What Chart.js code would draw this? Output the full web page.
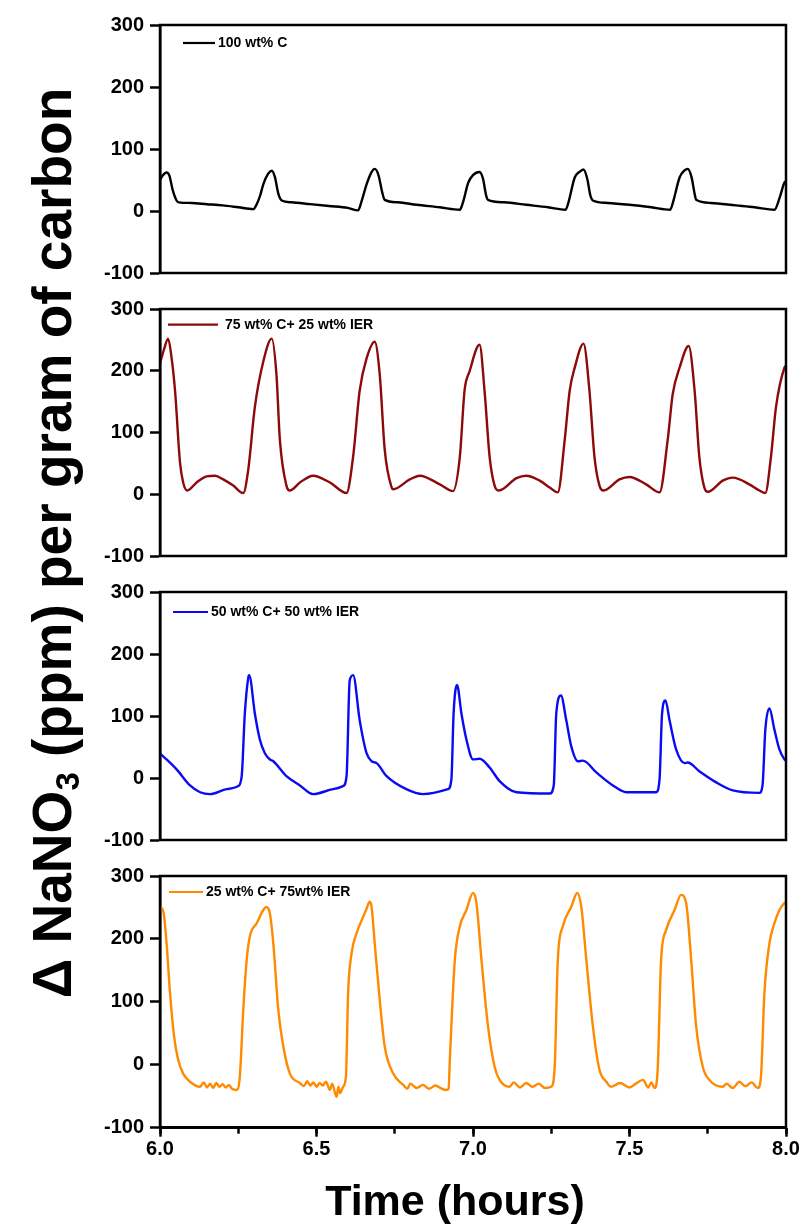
<!DOCTYPE html>
<html>
<head>
<meta charset="utf-8">
<script src="https://cdn.jsdelivr.net/npm/chart.js@4.4.1/dist/chart.umd.min.js"></script>
<style>
  body { margin: 0; background: #fff; width: 805px; height: 1225px; position: relative; overflow: hidden;
         font-family: 'Liberation Sans', Arial, sans-serif; }
  canvas { position: absolute; left: 0; }
  #ytitle { position: absolute; left: -448px; top: 513px; width: 1000px; height: 60px; line-height: 60px;
            font-size: 55px; font-weight: bold; text-align: center; white-space: nowrap;
            transform: rotate(-90deg); transform-origin: 50% 50%; color: #000; }
  #ytitle .sub { font-size: 0.6em; vertical-align: -0.25em; }
  #xtitle { position: absolute; left: 255px; top: 1179px; width: 400px; height: 43px; line-height: 43px;
            font-size: 43px; font-weight: bold; text-align: center; color: #000; }
</style>
</head>
<body>
<canvas id="c1" width="805" height="291" style="top:0px"></canvas>
<canvas id="c2" width="805" height="283" style="top:291px"></canvas>
<canvas id="c3" width="805" height="284" style="top:574px"></canvas>
<canvas id="c4" width="805" height="367" style="top:858px"></canvas>
<div id="ytitle">Δ NaNO<span class="sub">3</span> (ppm) per gram of carbon</div>
<div id="xtitle">Time (hours)</div>
<script>
const FONT = "'Liberation Sans', Arial, sans-serif";

// series names and colours
const seriesNames = ['100 wt% C', '75 wt% C+ 25 wt% IER', '50 wt% C+ 50 wt% IER', '25 wt% C+ 75wt% IER'];
const seriesColors = ['#000000', '#8c0a0a', '#0b0bf2', '#ff8a00'];

// axis ticks
const yTicks = [-100, 0, 100, 200, 300];
const xTicks = [6.0, 6.5, 7.0, 7.5, 8.0];
const xMinorTicks = [6.0, 6.25, 6.5, 6.75, 7.0, 7.25, 7.5, 7.75, 8.0];

// 100 wt% C
const timeC100 = [6.000, 6.008, 6.021, 6.030, 6.040, 6.053, 6.060, 6.100, 6.150, 6.200, 6.250, 6.298, 6.309, 6.320, 6.330, 6.345, 6.357, 6.367, 6.378, 6.389,
  6.420, 6.480, 6.540, 6.600, 6.633, 6.643, 6.660, 6.675, 6.686, 6.698, 6.710, 6.718, 6.760, 6.820, 6.894, 6.958, 6.968, 6.985, 7.000, 7.021,
  7.032, 7.042, 7.048, 7.100, 7.170, 7.240, 7.296, 7.305, 7.325, 7.340, 7.353, 7.365, 7.375, 7.383, 7.430, 7.500, 7.570, 7.630, 7.640, 7.660,
  7.675, 7.686, 7.698, 7.708, 7.713, 7.760, 7.840, 7.900, 7.963, 7.980, 7.995, 8.000];
const valC100 = [50, 57, 62, 57, 35, 17, 14, 13, 11, 9, 6, 3, 11, 25, 43, 60, 65, 55, 28, 17,
  14, 11, 8, 5, 1, 14, 43, 62, 68, 58, 30, 18, 14, 10, 6, 2, 14, 46, 58, 63,
  52, 25, 18, 14, 10, 6, 2, 14, 54, 63, 67, 52, 25, 17, 13, 10, 6, 2, 16, 54,
  65, 68, 55, 28, 18, 13, 9, 6, 2, 22, 46, 48];

// 75 wt% C + 25 wt% IER
const timeC75 = [6.000, 6.013, 6.026, 6.036, 6.048, 6.064, 6.074, 6.087, 6.117, 6.149, 6.176, 6.202, 6.234, 6.266, 6.282, 6.303, 6.330, 6.357, 6.372, 6.383,
  6.404, 6.415, 6.447, 6.489, 6.543, 6.596, 6.617, 6.638, 6.660, 6.686, 6.702, 6.718, 6.740, 6.745, 6.798, 6.830, 6.894, 6.936, 6.958, 6.973,
  6.989, 7.021, 7.037, 7.053, 7.069, 7.083, 7.139, 7.170, 7.213, 7.245, 7.271, 7.293, 7.309, 7.325, 7.353, 7.372, 7.388, 7.404, 7.417, 7.468,
  7.500, 7.553, 7.596, 7.622, 7.638, 7.660, 7.689, 7.708, 7.723, 7.739, 7.750, 7.798, 7.830, 7.883, 7.915, 7.934, 7.952, 7.968, 7.995, 8.000];
const valC75 = [212, 235, 252, 225, 168, 51, 19, 6, 19, 29, 30, 24, 14, 2, 40, 141, 215, 252, 194, 88,
  14, 6, 19, 30, 19, 2, 61, 168, 220, 247, 194, 72, 11, 8, 24, 30, 16, 5, 61, 168,
  199, 242, 167, 61, 14, 6, 26, 30, 22, 11, 3, 88, 168, 205, 244, 168, 61, 14, 6, 24,
  28, 16, 3, 88, 162, 205, 240, 168, 61, 11, 4, 22, 27, 16, 6, 2, 61, 141, 205, 208];

// 50 wt% C + 50 wt% IER
const timeC50 = [6.000, 6.010, 6.021, 6.053, 6.096, 6.128, 6.160, 6.213, 6.250, 6.261, 6.271, 6.282, 6.285, 6.303, 6.319, 6.335, 6.351, 6.362, 6.404, 6.447,
  6.489, 6.553, 6.585, 6.596, 6.606, 6.617, 6.638, 6.660, 6.676, 6.692, 6.724, 6.787, 6.840, 6.920, 6.931, 6.938, 6.949, 6.963, 6.979, 7.000,
  7.021, 7.053, 7.085, 7.139, 7.245, 7.258, 7.266, 7.281, 7.298, 7.314, 7.335, 7.351, 7.394, 7.447, 7.490, 7.585, 7.596, 7.604, 7.615, 7.628,
  7.649, 7.676, 7.686, 7.723, 7.777, 7.830, 7.915, 7.925, 7.934, 7.947, 7.963, 7.979, 7.995, 8.000];
const valC50 = [40, 35, 30, 14, -12, -23, -26, -18, -13, 3, 104, 162, 166, 104, 62, 40, 30, 27, 3, -12,
  -26, -18, -13, 3, 157, 166, 93, 40, 27, 24, 3, -18, -26, -18, -2, 104, 150, 104, 62, 30,
  31, 17, -5, -23, -25, -12, 104, 133, 93, 51, 27, 28, 9, -12, -23, -23, -2, 104, 125, 93,
  46, 24, 25, 11, -7, -20, -24, -12, 78, 112, 78, 46, 30, 28];

// 25 wt% C + 75 wt% IER
const timeC25 = [6.000, 6.011, 6.021, 6.032, 6.045, 6.058, 6.074, 6.096, 6.128, 6.140, 6.150, 6.160, 6.170, 6.180, 6.190, 6.200, 6.210, 6.220, 6.230, 6.245,
  6.255, 6.266, 6.277, 6.287, 6.309, 6.330, 6.340, 6.345, 6.351, 6.362, 6.378, 6.394, 6.415, 6.447, 6.460, 6.470, 6.480, 6.490, 6.500, 6.510,
  6.520, 6.530, 6.543, 6.550, 6.564, 6.570, 6.575, 6.585, 6.594, 6.601, 6.612, 6.628, 6.649, 6.660, 6.670, 6.676, 6.686, 6.702, 6.718, 6.745,
  6.777, 6.790, 6.800, 6.820, 6.840, 6.860, 6.880, 6.900, 6.915, 6.922, 6.926, 6.942, 6.958, 6.979, 7.000, 7.011, 7.027, 7.048, 7.069, 7.085,
  7.117, 7.130, 7.150, 7.170, 7.190, 7.210, 7.230, 7.250, 7.261, 7.271, 7.287, 7.314, 7.333, 7.346, 7.362, 7.383, 7.404, 7.426, 7.440, 7.470,
  7.500, 7.520, 7.543, 7.560, 7.570, 7.580, 7.590, 7.601, 7.617, 7.644, 7.665, 7.681, 7.697, 7.713, 7.734, 7.755, 7.798, 7.810, 7.830, 7.851,
  7.870, 7.890, 7.910, 7.920, 7.931, 7.947, 7.963, 7.979, 7.995, 8.000];
const valC25 = [251, 243, 193, 114, 45, 8, -14, -27, -35, -28, -36, -30, -37, -29, -35, -31, -36, -32, -38, -40,
  -19, 87, 167, 204, 225, 246, 251, 249, 241, 193, 87, 29, -14, -29, -34, -26, -33, -28, -35, -29,
  -33, -27, -40, -30, -51, -35, -45, -35, -19, 114, 177, 209, 235, 248, 259, 251, 193, 103, 29, -14,
  -32, -38, -30, -37, -32, -38, -33, -38, -40, -38, 8, 167, 220, 246, 273, 257, 167, 61, -3, -24,
  -35, -28, -36, -29, -35, -30, -37, -35, -3, 167, 220, 251, 273, 251, 167, 61, -8, -27, -35, -29,
  -36, -30, -24, -36, -28, -37, -8, 167, 214, 246, 270, 257, 167, 61, -3, -24, -35, -30, -37, -27,
  -34, -28, -37, -19, 114, 193, 225, 246, 257, 258];

const seriesTimes = [timeC100, timeC75, timeC50, timeC25];
const seriesValues = [valC100, valC75, valC50, valC25];

// panel geometry: canvas id, chart-area padding, legend placement (relative to chart area)
const panels = [
  { id: 'c1', pad: { top: 25, bottom: 14.3 }, leg: { x0: 23, x1: 55, dy: 18, tx: 58 } },
  { id: 'c2', pad: { top: 15.7, bottom: 15.7 }, leg: { x0: 8, x1: 58, dy: 15.6, tx: 65 } },
  { id: 'c3', pad: { top: 16, bottom: 16.3 }, leg: { x0: 13, x1: 48, dy: 20, tx: 51 } },
  { id: 'c4', pad: { top: 18, bottom: 57.3 }, leg: { x0: 9, x1: 43, dy: 16, tx: 46 } }
];

const framePlugin = {
  id: 'frame',
  afterDraw(chart) {
    const a = chart.chartArea;
    const ctx = chart.ctx;
    ctx.save();
    ctx.strokeStyle = '#000';
    ctx.lineWidth = 2.5;
    ctx.strokeRect(a.left, a.top, a.right - a.left, a.bottom - a.top);
    ctx.restore();
  }
};

const legendPlugin = {
  id: 'panelLegend',
  afterDraw(chart, args, opts) {
    const a = chart.chartArea;
    const ctx = chart.ctx;
    const ds = chart.data.datasets[0];
    const y = a.top + opts.dy;
    ctx.save();
    ctx.strokeStyle = ds.borderColor;
    ctx.lineWidth = 2.2;
    ctx.beginPath();
    ctx.moveTo(a.left + opts.x0, y);
    ctx.lineTo(a.left + opts.x1, y);
    ctx.stroke();
    ctx.fillStyle = '#000';
    ctx.font = 'bold 14px ' + FONT;
    ctx.textBaseline = 'middle';
    ctx.textAlign = 'left';
    ctx.fillText(ds.label, a.left + opts.tx, y + 0.5);
    ctx.restore();
  }
};

panels.forEach((p, i) => {
  const isBottom = i === panels.length - 1;
  const data = seriesTimes[i].map((t, k) => ({ x: t, y: seriesValues[i][k] }));
  const scales = {
    x: {
      type: 'linear', position: 'bottom', min: xTicks[0], max: xTicks[xTicks.length - 1],
      display: isBottom, weight: 0,
      afterBuildTicks: s => { s.ticks = xTicks.map(v => ({ value: v })); },
      afterFit: s => { s.height = isBottom ? 40 : 0; },
      grid: { drawOnChartArea: false, drawTicks: true, tickLength: 9, tickWidth: 2.5, tickColor: '#000' },
      border: { display: true, color: '#000', width: 2.5 },
      ticks: { color: '#000', padding: 1, autoSkip: false, maxRotation: 0,
               font: { family: FONT, size: 20, weight: 'bold' },
               callback: v => Number(v).toFixed(1) }
    },
    y: {
      type: 'linear', min: yTicks[0], max: yTicks[yTicks.length - 1],
      afterBuildTicks: s => { s.ticks = yTicks.map(v => ({ value: v })); },
      afterFit: s => { s.width = 160; },
      grid: { drawOnChartArea: false, drawTicks: true, tickLength: 10, tickWidth: 2.5, tickColor: '#000' },
      border: { display: true, color: '#000', width: 2.5 },
      ticks: { color: '#000', padding: 6, autoSkip: false,
               font: { family: FONT, size: 20, weight: 'bold' },
               callback: v => String(v) }
    }
  };
  if (isBottom) {
    scales.xm = {
      type: 'linear', axis: 'x', position: 'bottom', min: xTicks[0], max: xTicks[xTicks.length - 1],
      weight: -1,
      afterBuildTicks: s => { s.ticks = xMinorTicks.map(v => ({ value: v })); },
      afterFit: s => { s.height = 0; },
      grid: { drawOnChartArea: false, drawTicks: true, tickLength: 6, tickWidth: 2.5, tickColor: '#000' },
      border: { display: false },
      ticks: { display: false }
    };
  }
  new Chart(document.getElementById(p.id), {
    type: 'line',
    data: {
      datasets: [{
        label: seriesNames[i],
        data: data,
        borderColor: seriesColors[i],
        borderWidth: 2.4,
        pointRadius: 0,
        fill: false,
        cubicInterpolationMode: 'monotone'
      }]
    },
    options: {
      responsive: false,
      animation: false,
      events: [],
      layout: { padding: { left: 0, right: 19, top: p.pad.top, bottom: p.pad.bottom } },
      scales: scales,
      plugins: {
        legend: { display: false },
        tooltip: { enabled: false },
        panelLegend: p.leg
      }
    },
    plugins: [framePlugin, legendPlugin]
  });
});
</script>
</body>
</html>
